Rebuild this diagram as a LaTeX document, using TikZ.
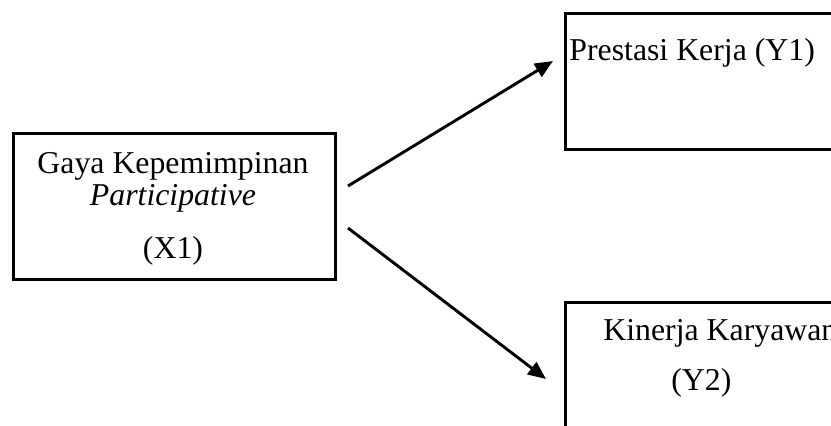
\documentclass[tikz,border=0pt]{standalone}
\usepackage{fontspec}
\setmainfont{Liberation Serif}
\usetikzlibrary{arrows.meta}
\begin{document}
\begin{tikzpicture}[x=0.5pt,y=-0.5pt,
  box/.style={draw, line width=1.4pt, inner sep=0pt, anchor=north west},
  conn/.style={line width=1.45pt, -{Triangle[length=9pt,width=7.5pt]}},
  lbl/.style={anchor=base west, inner sep=0pt, font=\fontsize{15.9}{19}\selectfont}]
\useasboundingbox (0,0) rectangle (831,425);
\clip (0,0) rectangle (831,425);
\node[box, minimum width=161pt, minimum height=73pt] (x1) at (12,132) {};
\node[box, minimum width=168pt, minimum height=68pt] (y1) at (564,12) {};
\node[box, minimum width=168pt, minimum height=80pt] (y2) at (564,301) {};
\node[lbl, anchor=base] (t1) at (173,173) {Gaya Kepemimpinan};
\node[lbl, anchor=base] (t2) at (173,205) {\itshape Participative};
\node[lbl, anchor=base] (t3) at (173,258) {(X1)};
\node[lbl] (t4) at (569,60) {Prestasi Kerja (Y1)};
\node[lbl] (t5) at (603,340) {Kinerja Karyawan};
\node[lbl] (t6) at (671,390) {(Y2)};
\coordinate (a1s) at (348,186);
\coordinate (a1e) at (553,61);
\coordinate (a2s) at (348,228);
\coordinate (a2e) at (546,379);
\draw[conn] (a1s) -- (a1e);
\draw[conn] (a2s) -- (a2e);
\end{tikzpicture}
\end{document}
